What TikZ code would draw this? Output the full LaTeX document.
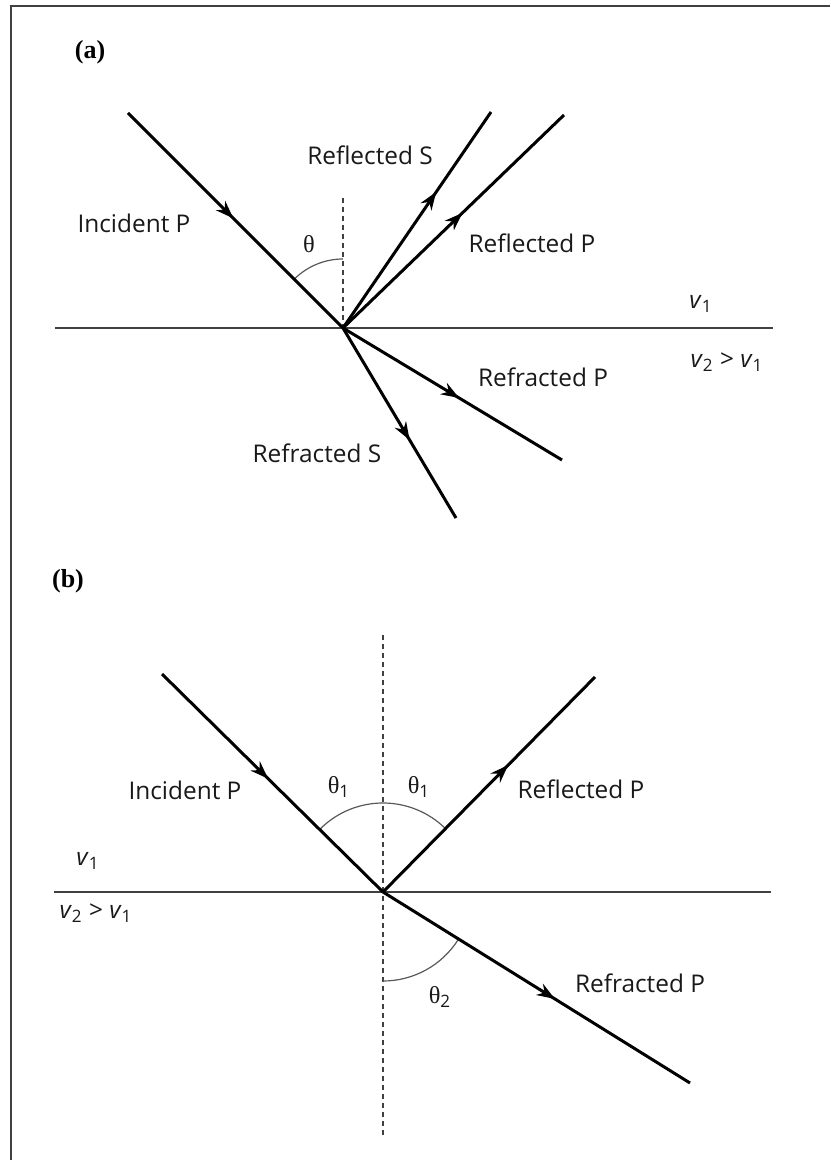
\documentclass[tikz,border=0pt]{standalone}
\usepackage{fontspec}
\setmainfont{Open Sans}
\newfontfamily\tmsfont{Liberation Serif}
\usetikzlibrary{arrows.meta,decorations.markings}
\newcommand{\vel}[1]{\textit{v}\textsubscript{#1}}
\newcommand{\thsym}{{\tmsfont θ}}

\begin{document}
\begin{tikzpicture}[x=0.5pt,y=-0.5pt,
  ray/.style={line width=1.5pt},
  midarrow/.style={postaction={decorate},decoration={markings,
    mark=at position #1 with {\arrow{Stealth[length=9pt,width=6.5pt]}}}},
  iface/.style={line width=1pt,black!75},
  normal/.style={line width=0.7pt,black!75,dash pattern=on 2.5pt off 2pt},
  anglearc/.style={line width=0.6pt,black!65},
  lbl/.style={inner sep=0pt,font=\fontsize{12.2}{14}\selectfont,text=black!90},
  tag/.style={inner sep=0pt,font=\tmsfont\bfseries\fontsize{13}{15}\selectfont}]
\useasboundingbox (0,0) rectangle (830,1160);
\draw[line width=1.2pt,black!75] (11,1160) -- (11,6) -- (830,6);

% (a)
\node[tag] (taga) at (90,52) {(a)};
\coordinate (Oa) at (343,328);
\coordinate (incA) at (128,113);
\coordinate (rflS) at (491,112);
\coordinate (rflP) at (564,115);
\coordinate (rfrP) at (562,460);
\coordinate (rfrS) at (456,518);
\coordinate (ifaL) at (55,328);
\coordinate (ifaR) at (773,328);
\coordinate (nrmA) at (343,198);
\draw[iface] (ifaL) -- (ifaR);
\draw[normal] (nrmA) -- (Oa);
\draw[anglearc] (Oa) ++(90:34.5pt) arc[start angle=90,end angle=135,radius=34.5pt];
\draw[ray,midarrow=0.49] (incA) -- (Oa);
\draw[ray,midarrow=0.63] (Oa) -- (rflS);
\draw[ray,midarrow=0.54] (Oa) -- (rflP);
\draw[ray,midarrow=0.53] (Oa) -- (rfrP);
\draw[ray,midarrow=0.59] (Oa) -- (rfrS);
\node[lbl] (incAl) at (134,223) {Incident P};
\node[lbl] (rflSl) at (370,155) {Reflected S};
\node[lbl] (rflPl) at (532,243) {Reflected P};
\node[lbl] (rfrPl) at (543,377) {Refracted P};
\node[lbl] (rfrSl) at (317,453) {Refracted S};
\node[lbl] (thA) at (309,244) {\thsym};
\node[lbl] (vA1) at (701,304) {\vel{1}};
\node[lbl] (vA2) at (727,362) {\vel{2} > \vel{1}};

% (b)
\node[tag] (tagb) at (68,581) {(b)};
\coordinate (Ob) at (383,892);
\coordinate (incB) at (162,674);
\coordinate (rflB) at (595,677);
\coordinate (rfrB) at (690,1083);
\coordinate (ifbL) at (54,892);
\coordinate (ifbR) at (771,892);
\coordinate (nrmT) at (383,635);
\coordinate (nrmB) at (383,1136);
\draw[iface] (ifbL) -- (ifbR);
\draw[normal] (nrmT) -- (nrmB);
\draw[anglearc] (Ob) ++(45:44.5pt) arc[start angle=45,end angle=135,radius=44.5pt];
\draw[anglearc] (Ob) ++(-90:44.5pt) arc[start angle=-90,end angle=-32,radius=44.5pt];
\draw[ray,midarrow=0.48] (incB) -- (Ob);
\draw[ray,midarrow=0.59] (Ob) -- (rflB);
\draw[ray,midarrow=0.56] (Ob) -- (rfrB);
\node[lbl] (incBl) at (185,790) {Incident P};
\node[lbl] (rflBl) at (581,789) {Reflected P};
\node[lbl] (rfrBl) at (640,983) {Refracted P};
\node[lbl] (thB1) at (339,787) {\thsym\textsubscript{1}};
\node[lbl] (thB1r) at (419,787) {\thsym\textsubscript{1}};
\node[lbl] (thB2) at (440,997) {\thsym\textsubscript{2}};
\node[lbl] (vB1) at (88,861) {\vel{1}};
\node[lbl] (vB2) at (96,913) {\vel{2} > \vel{1}};
\end{tikzpicture}
\end{document}
